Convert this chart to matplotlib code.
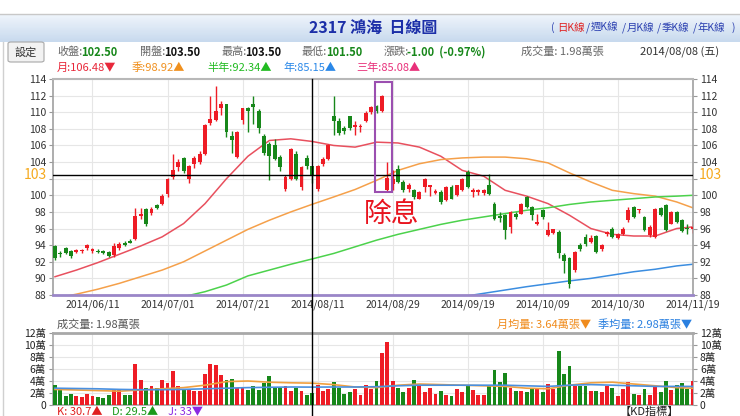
import numpy as np
import matplotlib
matplotlib.use('Agg')
import matplotlib.pyplot as plt
from matplotlib.patches import Rectangle, FancyBboxPatch
from matplotlib.lines import Line2D
from matplotlib.colors import LinearSegmentedColormap
from matplotlib.transforms import blended_transform_factory

plt.rcParams['font.family'] = ['Noto Sans CJK TC', 'DejaVu Sans']

# daily candles, index 0 .. 119 (last = 2014/11/19)
opens = [93.9, 93.0, 93.6, 93.3, 93.2, 93.3, 93.6, 93.3, 93.3, 93.2,
         93.2, 92.8, 93.7, 94.3, 94.5, 94.8, 97.5, 98.3, 97.9, 98.8,
         99.0, 100.1, 102.2, 103.4, 104.5, 102.0, 103.8, 104.0, 105.0, 108.7,
         109.1, 110.5, 111.0, 107.1, 104.6, 109.1, 110.5, 111.0, 110.2, 107.1,
         106.2, 106.0, 104.6, 100.8, 102.0, 105.0, 101.0, 104.5, 103.5, 100.8,
         103.8, 104.4, 109.5, 109.0, 108.1, 109.5, 108.2, 108.2, 109.0, 110.0,
         110.7, 110.1, 100.6, 101.4, 103.2, 101.6, 100.8, 100.6, 99.6, 101.0,
         101.0, 100.3, 100.4, 99.4, 101.0, 100.0, 100.6, 102.8, 100.4, 100.4,
         100.3, 101.2, 99.0, 97.5, 97.6, 96.2, 97.8, 97.8, 99.8, 98.6,
         96.5, 98.2, 95.2, 95.5, 95.6, 92.8, 92.4, 91.0, 94.0, 95.0,
         94.4, 95.1, 93.5, 95.3, 96.0, 94.9, 95.3, 97.0, 98.6, 98.2,
         97.4, 95.2, 95.0, 98.5, 98.8, 96.6, 98.0, 97.0, 96.1, 95.9]
highs = [94.0, 93.3, 93.8, 93.4, 93.5, 93.5, 94.1, 93.7, 93.5, 93.4,
         93.3, 94.3, 94.4, 94.5, 94.8, 98.5, 98.5, 98.5, 98.6, 99.0,
         100.1, 102.1, 105.0, 104.4, 104.6, 103.6, 104.7, 105.3, 108.6, 112.0,
         113.1, 111.3, 111.0, 107.8, 107.7, 110.5, 110.6, 112.0, 110.4, 107.4,
         106.4, 106.8, 104.8, 102.4, 105.7, 105.3, 103.5, 104.8, 103.5, 103.6,
         104.6, 106.2, 112.0, 109.3, 108.3, 109.6, 109.0, 108.6, 110.1, 110.8,
         110.9, 112.1, 104.0, 103.0, 103.6, 101.8, 101.5, 100.8, 100.5, 102.1,
         101.3, 100.8, 100.6, 101.1, 101.2, 101.3, 102.1, 103.0, 100.9, 100.8,
         100.8, 102.6, 99.2, 98.0, 97.7, 98.1, 98.0, 99.1, 99.9, 98.7,
         97.7, 98.3, 96.8, 96.0, 95.8, 93.1, 92.6, 93.3, 94.3, 95.3,
         95.2, 95.2, 94.1, 95.7, 96.2, 95.5, 96.2, 98.6, 98.7, 98.4,
         97.5, 96.4, 98.5, 98.6, 99.0, 98.1, 98.1, 97.1, 96.6, 97.0]
lows = [92.2, 92.6, 92.9, 92.5, 93.0, 93.1, 93.4, 93.1, 93.0, 92.9,
        92.6, 92.6, 93.4, 93.9, 94.2, 94.6, 97.2, 96.3, 97.6, 98.4,
        98.8, 99.8, 102.0, 102.9, 102.7, 101.5, 103.3, 103.8, 104.9, 108.5,
        108.9, 109.7, 107.0, 105.1, 104.5, 108.6, 107.6, 108.6, 107.5, 104.9,
        101.8, 104.2, 102.9, 100.5, 101.8, 101.9, 100.6, 103.2, 101.5, 100.5,
        103.5, 104.2, 107.2, 107.3, 107.4, 107.9, 107.2, 107.6, 108.8, 109.8,
        109.9, 110.0, 100.5, 100.6, 101.5, 100.4, 100.4, 99.6, 99.5, 100.4,
        99.9, 100.1, 99.0, 99.3, 99.5, 99.9, 100.5, 100.9, 99.8, 100.0,
        100.0, 100.0, 97.0, 96.8, 94.8, 95.5, 97.2, 97.7, 98.5, 97.0,
        96.4, 97.2, 95.1, 95.3, 92.4, 90.7, 88.9, 90.8, 93.3, 93.9,
        94.2, 93.1, 93.3, 95.1, 94.9, 94.7, 95.2, 96.8, 97.3, 97.9,
        95.7, 95.0, 94.9, 97.5, 95.7, 96.5, 96.7, 95.6, 95.3, 95.5]
closes = [92.4, 92.9, 93.0, 92.7, 93.4, 93.4, 94.0, 93.5, 93.2, 93.1,
          92.7, 93.9, 94.1, 94.0, 94.3, 97.5, 97.8, 96.5, 98.4, 98.5,
          99.9, 102.0, 103.1, 104.0, 102.9, 103.5, 104.5, 105.0, 108.5, 109.2,
          110.1, 111.0, 107.6, 106.6, 107.6, 110.5, 110.2, 110.6, 108.1, 105.1,
          104.7, 104.4, 103.4, 102.2, 105.6, 102.0, 103.4, 103.5, 102.5, 103.5,
          104.4, 106.0, 109.0, 107.5, 107.7, 108.1, 108.5, 108.4, 109.9, 110.6,
          110.1, 112.0, 102.1, 102.0, 101.6, 100.6, 101.2, 99.8, 100.4, 102.0,
          101.2, 100.5, 99.2, 101.0, 99.6, 101.2, 102.0, 101.0, 100.6, 100.6,
          100.6, 100.2, 97.2, 97.3, 95.8, 98.0, 97.4, 99.0, 98.6, 97.6,
          96.8, 97.4, 95.8, 95.9, 93.1, 92.1, 89.3, 93.2, 93.5, 94.1,
          94.9, 93.2, 94.0, 95.6, 95.0, 95.3, 96.0, 98.2, 97.4, 98.4,
          95.8, 96.2, 98.4, 97.6, 95.8, 98.0, 96.8, 95.7, 95.9, 96.2]
# 萬張
volumes = [3.3, 2.5, 1.5, 1.8, 1.5, 1.3, 1.9, 1.5, 1.4, 1.2,
           1.7, 2.75, 2.6, 1.65, 1.7, 6.9, 4.1, 2.8, 3.1, 2.9,
           4.1, 3.6, 5.7, 3.1, 2.6, 2.6, 2.3, 2.4, 5.1, 6.8,
           6.6, 5.0, 4.2, 4.3, 2.8, 3.0, 2.5, 3.2, 2.5, 3.6,
           4.9, 3.0, 2.9, 3.2, 2.3, 2.9, 2.4, 1.6, 1.98, 3.3,
           2.3, 2.6, 3.8, 2.8, 1.9, 2.1, 2.7, 1.6, 3.4, 2.6,
           4.0, 8.6, 10.5, 4.0, 2.9, 2.1, 2.9, 4.1, 3.4, 2.1,
           2.9, 1.8, 2.3, 1.65, 1.5, 2.75, 2.2, 3.2, 2.5, 1.65,
           1.65, 3.3, 5.9, 3.85, 5.3, 2.9, 2.3, 2.3, 2.2, 2.7,
           2.6, 2.25, 3.5, 2.75, 9.0, 5.2, 6.5, 3.1, 3.2, 3.2,
           2.3, 2.3, 2.1, 3.1, 2.9, 1.5, 2.75, 3.85, 1.9, 1.65,
           2.75, 1.65, 3.25, 2.2, 4.0, 2.5, 3.4, 3.7, 2.75, 4.0]

tick_days = [7, 21, 35, 49, 63, 77, 91, 105, 119]
tick_labels = ['2014/06/11', '2014/07/01', '2014/07/21', '2014/08/11', '2014/08/29',
               '2014/09/19', '2014/10/09', '2014/10/30', '2014/11/19']

# moving averages
ma_idx = [0, 4, 8, 12, 16, 20, 24, 28, 32, 36, 40, 44, 48, 52, 56, 60, 64, 68, 72, 76,
          80, 84, 88, 92, 96, 100, 104, 108, 112, 116, 119]
ma_month = [90.2, 91.0, 91.9, 92.9, 93.9, 95.0, 96.6, 99.0, 102.0, 104.7, 106.6, 106.8, 106.48,
            106.0, 105.8, 106.4, 106.3, 105.8, 104.7, 103.0, 102.3, 100.6, 99.9, 99.0, 97.6,
            96.0, 95.3, 95.1, 95.1, 96.0, 96.2]
ma_season = [87.6, 88.1, 88.7, 89.4, 90.2, 91.0, 92.0, 93.3, 94.6, 95.9, 97.0, 98.0, 98.92,
             99.8, 100.7, 101.8, 103.0, 103.8, 104.3, 104.5, 104.6, 104.6, 104.4, 103.9, 102.7,
             101.6, 100.6, 100.2, 99.9, 99.2, 98.5]
ma_half = [84.2, 84.9, 85.5, 86.1, 86.7, 87.3, 87.8, 88.4, 89.2, 90.3, 91.0, 91.7, 92.34,
           93.0, 93.8, 94.6, 95.3, 95.9, 96.5, 97.0, 97.4, 97.8, 98.2, 98.5, 98.9, 99.2, 99.4,
           99.6, 99.8, 99.9, 100.0]
ma_year = [83.3, 83.5, 83.6, 83.8, 84.0, 84.1, 84.3, 84.4, 84.6, 84.7, 84.9, 85.0, 85.15,
           85.4, 85.8, 86.2, 86.6, 87.0, 87.4, 87.8, 88.2, 88.6, 89.0, 89.35, 89.7, 90.0, 90.4,
           90.8, 91.1, 91.5, 91.7]
vol_ma_month = [2.6, 2.5, 2.4, 2.3, 2.5, 2.7, 2.9, 3.3, 3.9, 4.0, 3.8, 3.7, 3.64, 3.4, 3.0,
                2.9, 3.3, 3.5, 3.4, 3.3, 3.2, 3.1, 2.8, 2.7, 3.3, 3.7, 3.8, 3.5, 3.2, 2.9, 2.8]
vol_ma_season = [2.8, 2.75, 2.7, 2.6, 2.55, 2.55, 2.6, 2.7, 2.8, 2.9, 2.95, 3.0, 2.98, 3.0,
                 3.0, 3.05, 3.2, 3.3, 3.3, 3.3, 3.3, 3.3, 3.2, 3.1, 3.3, 3.4, 3.3, 3.2, 3.1,
                 3.1, 3.1]

cross_day = 48          # 2014/08/08
exdiv_days = [60, 63]   # boxed candles

RED = '#ee1c25'
GREEN = '#17871a'

W, H = 740, 416
fig = plt.figure(figsize=(W / 100, H / 100), dpi=100)
fig.patch.set_facecolor('white')

def fx(px):
    return px / W

def fy(py):
    return 1 - py / H

# header band
axh = fig.add_axes([0, fy(42), 1, 27 / H])
cmap = LinearSegmentedColormap.from_list('hdr', ['#eef4fb', '#c8daee'])
axh.imshow(np.linspace(0, 1, 30).reshape(-1, 1), cmap=cmap, aspect='auto', extent=[0, 1, 0, 1])
axh.axis('off')
fig.add_artist(Line2D([0, 1], [fy(14), fy(14)], color='#c8c8c8', lw=1))
fig.add_artist(Line2D([fx(3), fx(3)], [fy(42), 0], color='#d0d0d0', lw=1))

fig.text(fx(373), fy(28), '2317 鴻海  日線圖', color='#1c2fa8', fontsize=11.5,
         fontweight='bold', ha='center', va='center')
links = [('(', '#2a3fb0', 551), ('日K線', '#e02020', 557), ('/', '#2a3fb0', 586),
         ('週K線', '#2a3fb0', 591), ('/', '#2a3fb0', 622), ('月K線', '#2a3fb0', 627),
         ('/', '#2a3fb0', 657), ('季K線', '#2a3fb0', 662), ('/', '#2a3fb0', 693),
         ('年K線', '#2a3fb0', 697), (')', '#2a3fb0', 732)]
for t, c, x in links:
    fig.text(fx(x), fy(28), t, color=c, fontsize=7.5, va='center')

# 設定 button
btn = FancyBboxPatch((fx(8), fy(62)), fx(36), 20 / H, boxstyle='round,pad=0,rounding_size=0.004',
                     transform=fig.transFigure, facecolor='#f2f2f2', edgecolor='#a8a8a8', lw=0.8)
fig.patches.append(btn)
fig.text(fx(26), fy(52), '設定', fontsize=8, ha='center', va='center', color='#333')

# info row
row = fy(52)
info = [(57, '收盤:', 81, '102.50', GREEN), (140, '開盤:', 164, '103.50', '#111'),
        (222, '最高:', 245, '103.50', '#111'), (302, '最低:', 326, '101.50', GREEN),
        (384, '漲跌:', 407, '-1.00  (-0.97%)', GREEN)]
for lx, lab, vx, val, vc in info:
    fig.text(fx(lx), row, lab, fontsize=8, color='#666', va='center')
    fig.text(fx(vx), row, val, fontsize=8, color=vc, fontweight='bold', va='center')
fig.text(fx(521), row, '成交量: 1.98萬張', fontsize=8, color='#666', va='center')
fig.text(fx(640), row, '2014/08/08 (五)', fontsize=8, color='#333', va='center')

row2 = fy(68)
ma_text = [(57, '月:106.48▼', '#e8283a'), (132, '季:98.92▲', '#f0901e'),
           (207, '半年:92.34▲', '#22bb22'), (283, '年:85.15▲', '#2a88e8'),
           (356, '三年:85.08▲', '#e8307a')]
for x, t, c in ma_text:
    fig.text(fx(x), row2, t, fontsize=8, color=c, va='center')

# price panel
ax = fig.add_axes([fx(53), fy(295), (693 - 53) / W, (295 - 79) / H])
x = np.arange(len(closes))
o = np.array(opens)
c = np.array(closes)
up = c >= o
cols = np.where(up, RED, GREEN)

ax.vlines(x, lows, highs, colors=cols, lw=1.0, zorder=3)
ax.bar(x, np.maximum(np.abs(c - o), 0.14), bottom=np.minimum(o, c), width=0.72,
       color=cols, zorder=4)

ax.plot(ma_idx, ma_month, color='#e8505e', lw=1.1, zorder=2)
ax.plot(ma_idx, ma_season, color='#f5a04a', lw=1.1, zorder=2)
ax.plot(ma_idx, ma_half, color='#4cd24c', lw=1.1, zorder=2)
ax.plot(ma_idx, ma_year, color='#3b8de0', lw=1.1, zorder=2)

ax.axhline(closes[cross_day], color='black', lw=1, zorder=5)

ax.set_xlim(-0.37, 119.05)
ax.set_ylim(88, 114)
yt = list(range(88, 115, 2))
ax.set_yticks(yt)
ax.set_yticklabels(['' if v == 102 else str(v) for v in yt])
ax.set_xticks(tick_days)
ax.set_xticklabels(tick_labels)
ax.tick_params(axis='y', which='both', left=True, right=True, labelleft=True, labelright=True,
               length=3, color='#999', labelsize=7.5, labelcolor='#333', pad=2)
ax.tick_params(axis='x', length=0, labelsize=7.5, labelcolor='#333', pad=3)
ax.grid(True, color='#e6e6e6', lw=0.8, zorder=0)
ax.set_axisbelow(True)
for s in ['left', 'right']:
    ax.spines[s].set_color('#a0a0a0')
    ax.spines[s].set_linewidth(1.2)
ax.spines['top'].set_color('#b8b8b8')
ax.spines['top'].set_linewidth(1.5)
ax.spines['bottom'].set_color('#9a86c8')
ax.spines['bottom'].set_linewidth(2)

btr = blended_transform_factory(ax.transAxes, ax.transData)
ax.text(-0.009, closes[cross_day], '103', transform=btr, ha='right', va='center',
        color='#f5aa20', fontsize=10)
ax.text(1.009, closes[cross_day], '103', transform=btr, ha='left', va='center',
        color='#f5aa20', fontsize=10)

# ex-dividend box
b0, b1 = exdiv_days
bhi = max(highs[b0:b1]) + 1.5
blo = min(lows[b0:b1]) - 0.1
ax.add_patch(Rectangle((b0 - 0.25, blo), b1 - b0 + 0.05, bhi - blo, fill=False,
                       edgecolor='#9b4fb0', lw=1.5, zorder=6))
ax.text(62.8, 97.8, '除息', color='#e8141e', fontsize=20, ha='center', va='center', zorder=6)

# volume panel
axv = fig.add_axes([fx(53), fy(405), (693 - 53) / W, (405 - 333) / H])
axv.bar(x, volumes, width=0.72, color=cols, zorder=3)
axv.plot(ma_idx, vol_ma_month, color='#f0a040', lw=1.2, zorder=4)
axv.plot(ma_idx, vol_ma_season, color='#4a90e0', lw=1.2, zorder=4)
axv.set_xlim(-0.37, 119.05)
axv.set_ylim(0, 12)
vt = list(range(0, 13, 2))
axv.set_yticks(vt)
axv.set_yticklabels(['0' if v == 0 else f'{v}萬' for v in vt])
axv.set_xticks(tick_days)
axv.set_xticklabels([])
axv.tick_params(axis='x', length=0)
axv.tick_params(axis='y', left=True, right=True, labelleft=True, labelright=True,
                length=3, color='#999', labelsize=7.5, labelcolor='#222', pad=2)
axv.grid(True, color='#e6e6e6', lw=0.8, zorder=0)
axv.set_axisbelow(True)
for s in ['left', 'right', 'bottom']:
    axv.spines[s].set_color('#a8a8a8')
    axv.spines[s].set_linewidth(1.2)
axv.spines['top'].set_color('#a8a8a8')
axv.spines['top'].set_linewidth(2)

fig.text(fx(57), fy(325), '成交量: 1.98萬張', fontsize=8, color='#555', va='center')
fig.text(fx(497), fy(325), '月均量: 3.64萬張▼', fontsize=8, color='#f08c1e', va='center')
fig.text(fx(598), fy(325), '季均量: 2.98萬張▼', fontsize=8, color='#2a80e0', va='center')

# crosshair vertical line through both panels
vtr = blended_transform_factory(ax.transData, fig.transFigure)
fig.add_artist(Line2D([cross_day, cross_day], [fy(79), 0], transform=vtr, color='black', lw=1))

# KD row (cut at bottom, as in the screenshot)
fig.text(fx(57), fy(412), 'K: 30.7▲', fontsize=8, color='#e02020', va='center')
fig.text(fx(112), fy(412), 'D: 29.5▲', fontsize=8, color='#1a9a1a', va='center')
fig.text(fx(168), fy(412), 'J: 33▼', fontsize=8, color='#8a2be2', va='center')
fig.text(fx(620), fy(412), '【KD指標】', fontsize=8, color='#222', va='center')

fig.savefig('out.png', dpi=100)
